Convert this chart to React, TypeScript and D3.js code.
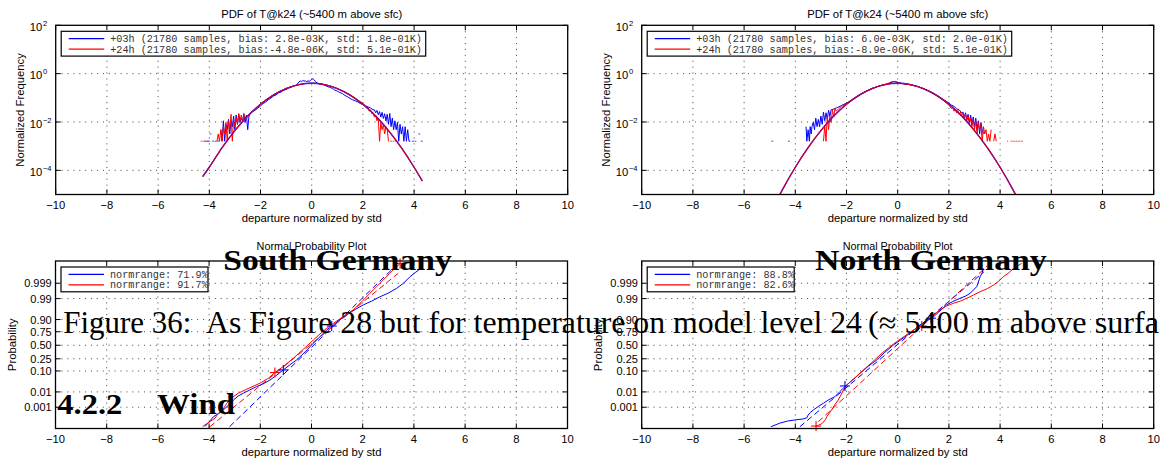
import React from "react";
import * as d3 from "d3";

// ---------------- DATA ----------------
const xTicks = [-10, -8, -6, -4, -2, 0, 2, 4, 6, 8, 10];
const pdfYTickExp = [2, 0, -2, -4];
const probTicks = ["0.001", "0.01", "0.10", "0.25", "0.50", "0.75", "0.90", "0.99", "0.999"];

const pdfTitle = "PDF of T@k24 (~5400 m above sfc)";
const pdfYLabel = "Normalized Frequency";
const npTitle = "Normal Probability Plot";
const npYLabel = "Probability";
const xLabel = "departure normalized by std";

const tlLegend = [
  "+03h (21780 samples, bias: 2.8e-03K, std: 1.8e-01K)",
  "+24h (21780 samples, bias:-4.8e-06K, std: 5.1e-01K)",
];
const trLegend = [
  "+03h (21780 samples, bias: 6.0e-03K, std: 2.0e-01K)",
  "+24h (21780 samples, bias:-8.9e-06K, std: 5.1e-01K)",
];
const blLegend = ["normrange: 71.9%", "normrange: 91.7%"];
const brLegend = ["normrange: 88.8%", "normrange: 82.6%"];

// PDF panels: [departure, normalized frequency]
const tlFit: [number, number][] = [
  [-4.26, 5.5e-5], [-4, 1.34e-4], [-3.5, 8.7e-4], [-3, 4.4e-3], [-2.5, 0.0175], [-2, 0.054],
  [-1.5, 0.13], [-1, 0.242], [-0.5, 0.352], [0, 0.399], [0.5, 0.352], [1, 0.242], [1.5, 0.13],
  [2, 0.054], [2.5, 0.0175], [3, 4.4e-3], [3.5, 8.7e-4], [4, 1.34e-4], [4.32, 3.6e-5],
];
const trFit: [number, number][] = [
  [-5, 1.5e-6], [-4.5, 1.6e-5], [-4, 1.34e-4], [-3.5, 8.7e-4], [-3, 4.4e-3], [-2.5, 0.0175],
  [-2, 0.054], [-1.5, 0.13], [-1, 0.242], [-0.5, 0.352], [0, 0.399], [0.5, 0.352], [1, 0.242],
  [1.5, 0.13], [2, 0.054], [2.5, 0.0175], [3, 4.4e-3], [3.5, 8.7e-4], [4, 1.34e-4], [4.5, 1.6e-5],
  [5, 1.5e-6],
];

const tlBlue: [number, number][] = [
  [-4.15, 0.0016], [-4.1, 0], [-4.05, 0.0016], [-4.0, 0], [-3.95, 0.0032], [-3.9, 0], [-3.85, 0.0016],
  [-3.8, 0], [-3.75, 0.0016], [-3.7, 0], [-3.65, 0.0016], [-3.6, 0], [-3.55, 0.0048], [-3.5, 0.0016],
  [-3.45, 0.0112], [-3.4, 0.0016], [-3.35, 0.008], [-3.3, 0.0048], [-3.25, 0.0128], [-3.2, 0.0032],
  [-3.15, 0.0112], [-3.1, 0.0064], [-3.05, 0.0176], [-3.0, 0.0048], [-2.95, 0.0192], [-2.9, 0.008],
  [-2.85, 0.0208], [-2.8, 0.0096], [-2.75, 0.0144], [-2.7, 0.0112], [-2.65, 0.0224], [-2.6, 0.0096],
  [-2.55, 0.0192], [-2.5, 0.0048], [-2.45, 0.0176], [-2.4, 0.0224], [-2.3, 0.027], [-2.2, 0.031],
  [-2.1, 0.038], [-2.0, 0.046], [-1.9, 0.058], [-1.8, 0.066], [-1.7, 0.083], [-1.6, 0.095],
  [-1.5, 0.118], [-1.4, 0.13], [-1.3, 0.16], [-1.2, 0.172], [-1.1, 0.205], [-1.0, 0.22],
  [-0.9, 0.255], [-0.8, 0.27], [-0.7, 0.31], [-0.6, 0.325], [-0.5, 0.45], [-0.45, 0.5], [-0.4, 0.47],
  [-0.35, 0.52], [-0.3, 0.49], [-0.25, 0.5], [-0.2, 0.47], [-0.15, 0.5], [-0.1, 0.48], [-0.05, 0.52],
  [0, 0.58], [0.05, 0.62], [0.1, 0.55], [0.15, 0.47], [0.2, 0.41], [0.3, 0.38], [0.4, 0.36],
  [0.5, 0.33], [0.6, 0.3], [0.7, 0.27], [0.8, 0.25], [0.9, 0.21], [1.0, 0.19], [1.1, 0.165],
  [1.2, 0.15], [1.3, 0.125], [1.4, 0.11], [1.5, 0.094], [1.6, 0.083], [1.7, 0.075], [1.8, 0.068],
  [1.9, 0.058], [2.0, 0.052], [2.1, 0.047], [2.2, 0.042], [2.3, 0.038], [2.4, 0.032], [2.45, 0.032],
  [2.5, 0.024], [2.55, 0.03], [2.6, 0.02], [2.65, 0.027], [2.7, 0.016], [2.75, 0.025], [2.8, 0.014],
  [2.85, 0.022], [2.9, 0.011], [2.95, 0.0208], [3.0, 0.008], [3.05, 0.0224], [3.1, 0.0064],
  [3.15, 0.0144], [3.2, 0.0048], [3.25, 0.0112], [3.3, 0.0048], [3.35, 0.0096], [3.4, 0.0016],
  [3.45, 0.008], [3.5, 0.0032], [3.55, 0.0064], [3.6, 0.0016], [3.65, 0.0064], [3.7, 0.0016],
  [3.75, 0.0048], [3.8, 0.0016], [3.85, 0.0016], [3.9, 0], [3.95, 0.0016], [4.0, 0], [4.05, 0.0016],
  [4.1, 0], [4.15, 0], [4.2, 0.0032], [4.25, 0], [4.3, 0.0016], [4.35, 0],
];

const tlRed: [number, number][] = [
  [-4.3, 0.0016], [-4.25, 0], [-4.2, 0.0016], [-4.15, 0], [-4.1, 0.0016], [-4.05, 0], [-4.0, 0.0016],
  [-3.95, 0], [-3.75, 0], [-3.7, 0.0016], [-3.65, 0.0032], [-3.6, 0.0016], [-3.55, 0.0048],
  [-3.5, 0.0016], [-3.45, 0.0064], [-3.4, 0.0032], [-3.35, 0.0096], [-3.3, 0.0016], [-3.25, 0.0112],
  [-3.2, 0.0048], [-3.15, 0.0208], [-3.1, 0.0016], [-3.05, 0.0128], [-3.0, 0.0064], [-2.95, 0.016],
  [-2.9, 0.008], [-2.85, 0.0224], [-2.8, 0.0112], [-2.75, 0.0192], [-2.7, 0.0096], [-2.65, 0.0208],
  [-2.6, 0.0128], [-2.55, 0.0176], [-2.5, 0.016], [-2.45, 0.0208], [-2.4, 0.024], [-2.3, 0.029],
  [-2.2, 0.036], [-2.1, 0.045], [-2.0, 0.055], [-1.9, 0.066], [-1.8, 0.08], [-1.7, 0.093],
  [-1.6, 0.112], [-1.5, 0.13], [-1.4, 0.152], [-1.3, 0.17], [-1.2, 0.196], [-1.1, 0.215],
  [-1.0, 0.245], [-0.9, 0.262], [-0.8, 0.292], [-0.7, 0.31], [-0.6, 0.335], [-0.5, 0.35],
  [-0.4, 0.37], [-0.3, 0.385], [-0.2, 0.39], [-0.1, 0.4], [0, 0.398], [0.1, 0.4], [0.2, 0.39],
  [0.3, 0.378], [0.4, 0.368], [0.5, 0.35], [0.6, 0.336], [0.7, 0.31], [0.8, 0.29], [0.9, 0.265],
  [1.0, 0.24], [1.1, 0.218], [1.2, 0.19], [1.3, 0.172], [1.4, 0.148], [1.5, 0.13], [1.6, 0.112],
  [1.7, 0.096], [1.8, 0.08], [1.9, 0.068], [2.0, 0.06], [2.05, 0.052], [2.1, 0.044], [2.15, 0.038],
  [2.2, 0.04], [2.25, 0.028], [2.3, 0.032], [2.35, 0.022], [2.4, 0.024], [2.45, 0.016],
  [2.5, 0.0192], [2.55, 0.0112], [2.6, 0.0144], [2.65, 0.0016], [2.7, 0.0096], [2.75, 0.0048],
  [2.8, 0.008], [2.85, 0.0032], [2.9, 0.0064], [2.95, 0.0048], [3.0, 0.0016], [3.05, 0],
  [3.1, 0.0016], [3.15, 0], [3.2, 0.0016], [3.25, 0], [3.3, 0.0016], [3.35, 0],
];

const trBlue: [number, number][] = [
  [-4.95, 0], [-4.9, 0.0016], [-4.85, 0], [-4.3, 0], [-4.25, 0.0016], [-4.2, 0], [-3.62, 0],
  [-3.58, 0.0064], [-3.55, 0.0016], [-3.5, 0.0048], [-3.45, 0.0016], [-3.42, 0.0064], [-3.38, 0.0032],
  [-3.35, 0.0064], [-3.3, 0.0096], [-3.25, 0.0048], [-3.2, 0.0144], [-3.15, 0.0064], [-3.1, 0.0128],
  [-3.05, 0.0064], [-3.0, 0.0176], [-2.95, 0.008], [-2.9, 0.0256], [-2.85, 0.0112], [-2.8, 0.024],
  [-2.75, 0.0128], [-2.7, 0.0304], [-2.65, 0.0176], [-2.6, 0.032], [-2.5, 0.034], [-2.4, 0.038],
  [-2.3, 0.042], [-2.2, 0.048], [-2.1, 0.054], [-2.0, 0.06], [-1.9, 0.07], [-1.8, 0.082],
  [-1.6, 0.113], [-1.4, 0.152], [-1.2, 0.196], [-1.0, 0.243], [-0.8, 0.29], [-0.6, 0.335],
  [-0.4, 0.37], [-0.3, 0.42], [-0.2, 0.45], [-0.1, 0.48], [0, 0.44], [0.1, 0.41], [0.2, 0.39],
  [0.4, 0.366], [0.6, 0.33], [0.8, 0.29], [1.0, 0.24], [1.2, 0.195], [1.4, 0.155], [1.6, 0.115],
  [1.8, 0.082], [1.9, 0.072], [2.0, 0.06], [2.1, 0.05], [2.2, 0.044], [2.3, 0.035], [2.4, 0.032],
  [2.5, 0.024], [2.55, 0.0256], [2.6, 0.016], [2.65, 0.024], [2.7, 0.0128], [2.75, 0.0208],
  [2.8, 0.0096], [2.85, 0.0192], [2.9, 0.008], [2.95, 0.016], [3.0, 0.0064], [3.05, 0.0144],
  [3.1, 0.0048], [3.15, 0.0112], [3.2, 0.0032], [3.25, 0.0096], [3.3, 0.0048], [3.35, 0.0032],
  [3.4, 0],
];

const trRed: [number, number][] = [
  [-2.95, 0], [-2.9, 0.0016], [-2.85, 0.0064], [-2.8, 0.0016], [-2.75, 0.0192], [-2.7, 0.0048],
  [-2.65, 0.0176], [-2.6, 0.0096], [-2.55, 0.0304], [-2.5, 0.016], [-2.45, 0.036], [-2.4, 0.028],
  [-2.3, 0.036], [-2.2, 0.044], [-2.1, 0.05], [-2.0, 0.056], [-1.9, 0.066], [-1.8, 0.08],
  [-1.6, 0.11], [-1.4, 0.15], [-1.2, 0.194], [-1.0, 0.245], [-0.8, 0.29], [-0.6, 0.34],
  [-0.4, 0.38], [-0.3, 0.43], [-0.2, 0.48], [-0.1, 0.46], [0, 0.42], [0.1, 0.4], [0.2, 0.38],
  [0.4, 0.36], [0.6, 0.32], [0.8, 0.285], [1.0, 0.24], [1.2, 0.19], [1.4, 0.15], [1.6, 0.11],
  [1.8, 0.076], [1.9, 0.062], [2.0, 0.05], [2.05, 0.042], [2.1, 0.036], [2.15, 0.04], [2.2, 0.028],
  [2.25, 0.032], [2.3, 0.024], [2.35, 0.03], [2.4, 0.021], [2.45, 0.0256], [2.5, 0.018],
  [2.55, 0.024], [2.6, 0.0144], [2.65, 0.0208], [2.7, 0.0112], [2.75, 0.0176], [2.8, 0.008],
  [2.85, 0.0144], [2.9, 0.0064], [2.95, 0.0128], [3.0, 0.0048], [3.05, 0.0112], [3.1, 0.0032],
  [3.15, 0.0096], [3.2, 0.0048], [3.25, 0.008], [3.3, 0.0016], [3.35, 0.0064], [3.4, 0.0032],
  [3.45, 0.0048], [3.5, 0.0016], [3.55, 0.0032], [3.6, 0.0016], [3.65, 0.0048], [3.7, 0],
  [3.75, 0.0016], [3.8, 0.0032], [3.85, 0.0016], [3.9, 0], [4.25, 0], [4.28, 0.0016], [4.31, 0.0016],
  [4.34, 0], [4.45, 0.0016], [4.5, 0], [4.55, 0.0016], [4.6, 0], [4.65, 0.0016], [4.7, 0],
  [4.75, 0.0016], [4.8, 0], [4.85, 0.0016], [4.9, 0],
];

// Normal probability panels: [departure, normal quantile of probability]
const blBlue: [number, number][] = [
  [-4.16, -4.05], [-3.95, -3.75], [-3.83, -3.56], [-3.6, -3.38], [-3.44, -3.22], [-3.25, -3.0],
  [-3.05, -2.73], [-2.85, -2.52], [-2.66, -2.39], [-2.4, -2.22], [-2.14, -2.06], [-1.85, -1.9],
  [-1.62, -1.73], [-1.35, -1.48], [-1.1, -1.23], [-0.85, -0.98], [-0.58, -0.73], [-0.25, -0.33],
  [0.07, 0.1], [0.35, 0.45], [0.59, 0.76], [0.85, 1.01], [1.1, 1.27], [1.37, 1.51], [1.7, 1.78],
  [2.02, 2.01], [2.35, 2.2], [2.68, 2.42], [3.0, 2.6], [3.33, 2.84], [3.6, 3.1], [3.85, 3.42],
  [4.05, 3.62], [4.24, 3.8], [4.32, 4.0],
];
const blRed: [number, number][] = [
  [-4.25, -4.05], [-3.96, -3.8], [-3.77, -3.64], [-3.64, -3.39], [-3.51, -3.31], [-3.31, -2.89],
  [-3.05, -2.56], [-2.86, -2.39], [-2.53, -2.19], [-2.01, -1.89], [-1.69, -1.65], [-1.43, -1.36],
  [-1.1, -1.06], [-0.71, -0.65], [-0.32, -0.2], [0.07, 0.26], [0.46, 0.71], [0.85, 1.09],
  [1.24, 1.43], [1.63, 1.76], [1.96, 2.17], [2.28, 2.59], [2.54, 2.92], [2.8, 3.25], [3.06, 3.59],
  [3.33, 3.92], [3.46, 4.08],
];
const blBlueRef: [number, number][] = [[-3.2, -4.06], [3.2, 3.85]];
const blRedRef: [number, number][] = [[-3.97, -4.06], [3.39, 3.59]];
const blBlueMarks: [number, number][] = [[-1.1, -1.23], [0.79, 0.96]];
const blRedMarks: [number, number][] = [[-1.43, -1.36], [3.46, 4.08]];

const brBlue: [number, number][] = [
  [-4.95, -4.06], [-4.6, -3.88], [-4.3, -3.78], [-4.0, -3.72], [-3.72, -3.68], [-3.55, -3.62],
  [-3.5, -3.48], [-3.42, -3.36], [-3.29, -3.22], [-3.1, -3.05], [-2.9, -2.89], [-2.7, -2.72],
  [-2.45, -2.56], [-2.25, -2.3], [-2.06, -2.06], [-1.75, -1.72], [-1.47, -1.4], [-1.15, -1.05],
  [-0.82, -0.73], [-0.5, -0.35], [-0.17, 0.01], [0.15, 0.3], [0.48, 0.6], [0.87, 1.01], [1.1, 1.2],
  [1.33, 1.34], [1.6, 1.65], [1.91, 2.01], [2.15, 2.18], [2.43, 2.34], [2.65, 2.45], [2.83, 2.59],
  [2.95, 2.75], [3.09, 2.92], [3.15, 3.15], [3.22, 3.42], [3.3, 3.62], [3.35, 3.82],
];
const brRed: [number, number][] = [
  [-3.2, -4.05], [-2.95, -3.9], [-2.82, -3.7], [-2.77, -3.56], [-2.58, -3.22], [-2.45, -2.95],
  [-2.32, -2.73], [-2.12, -2.23], [-1.99, -1.98], [-1.65, -1.6], [-1.34, -1.23], [-1.0, -0.85],
  [-0.69, -0.48], [-0.35, -0.12], [-0.04, 0.18], [0.3, 0.48], [0.61, 0.76], [0.94, 0.96],
  [1.3, 1.4], [1.65, 1.76], [1.9, 1.95], [2.17, 2.09], [2.45, 2.2], [2.7, 2.34], [2.95, 2.5],
  [3.22, 2.67], [3.5, 2.82], [3.74, 3.0], [3.95, 3.2], [4.13, 3.42], [4.35, 3.62], [4.52, 3.83],
  [4.7, 3.97], [4.84, 4.08],
];
const brBlueRef: [number, number][] = [[-3.82, -4.06], [3.37, 3.66]];
const brRedRef: [number, number][] = [[-3.1, -3.81], [3.54, 4.0]];
const brBlueMarks: [number, number][] = [[-2.06, -2.03], [1.3, 1.35]];
const brRedMarks: [number, number][] = [[-3.19, -4.03], [0.94, 0.96]];

// Document text showing through the page
const headSouth = "South Germany";
const headNorth = "North Germany";
const captionParts = ["Figure 36:", "As Figure 28 but for temperature on model level 24", "(\u2248 5400 m above surfa"];
const sectionNum = "4.2.2";
const sectionName = "Wind";

// ---------------- HELPERS ----------------
function probit(p: number): number {
  const a = [-39.69683028665376, 220.9460984245205, -275.9285104469687, 138.357751867269, -30.66479806614716, 2.506628277459239];
  const b = [-54.47609879822406, 161.5858368580409, -155.6989798598866, 66.80131188771972, -13.28068155288572];
  const c = [-0.007784894002430293, -0.3223964580411365, -2.400758277161838, -2.549732539343734, 4.374664141464968, 2.938163982698783];
  const d = [0.007784695709041462, 0.3224671290700398, 2.445134137142996, 3.754408661907416];
  const pl = 0.02425;
  if (p < pl) {
    const q = Math.sqrt(-2 * Math.log(p));
    return (((((c[0] * q + c[1]) * q + c[2]) * q + c[3]) * q + c[4]) * q + c[5]) / ((((d[0] * q + d[1]) * q + d[2]) * q + d[3]) * q + 1);
  }
  if (p <= 1 - pl) {
    const q = p - 0.5, r = q * q;
    return ((((((a[0] * r + a[1]) * r + a[2]) * r + a[3]) * r + a[4]) * r + a[5]) * q) / (((((b[0] * r + b[1]) * r + b[2]) * r + b[3]) * r + b[4]) * r + 1);
  }
  const q = Math.sqrt(-2 * Math.log(1 - p));
  return -(((((c[0] * q + c[1]) * q + c[2]) * q + c[3]) * q + c[4]) * q + c[5]) / ((((d[0] * q + d[1]) * q + d[2]) * q + d[3]) * q + 1);
}

const fmtX = (v: number) => (v < 0 ? "\u2212" + Math.abs(v) : String(v));
const SANS = "'Liberation Sans', Arial, Helvetica, sans-serif";
const MONO = "'Liberation Mono', 'Courier New', monospace";
const SERIF = "'Liberation Serif', 'Times New Roman', serif";
const BLUE = "#0000ff";
const RED = "#ff0000";

type Box = { left: number; right: number; top: number; bottom: number };

function Frame({ b, xs, yTicks }: { b: Box; xs: d3.ScaleLinear<number, number>; yTicks: number[] }) {
  const tl = 5;
  return (
    <g>
      <rect x={b.left} y={b.top} width={b.right - b.left} height={b.bottom - b.top} fill="none" stroke="#000" strokeWidth={1.3} />
      {xTicks.map((t) => (
        <g key={"xt" + t}>
          <line x1={xs(t)} x2={xs(t)} y1={b.bottom} y2={b.bottom - tl} stroke="#000" strokeWidth={1} />
          <line x1={xs(t)} x2={xs(t)} y1={b.top} y2={b.top + tl} stroke="#000" strokeWidth={1} />
          <text x={xs(t)} y={b.bottom + 14} textAnchor="middle" fontSize={11.2} fontFamily={SANS}>{fmtX(t)}</text>
        </g>
      ))}
      {yTicks.map((y, i) => (
        <g key={"yt" + i}>
          <line x1={b.left} x2={b.left + tl} y1={y} y2={y} stroke="#000" strokeWidth={1} />
          <line x1={b.right} x2={b.right - tl} y1={y} y2={y} stroke="#000" strokeWidth={1} />
        </g>
      ))}
    </g>
  );
}

function Grid({ b, xs, yTicks }: { b: Box; xs: d3.ScaleLinear<number, number>; yTicks: number[] }) {
  const st = { stroke: "#000", strokeWidth: 0.9, strokeDasharray: "1.1,4.8", opacity: 0.75 };
  return (
    <g>
      {xTicks.filter((t) => t > -10 && t < 10).map((t) => (
        <line key={"gx" + t} x1={xs(t)} x2={xs(t)} y1={b.top} y2={b.bottom} {...st} />
      ))}
      {yTicks.filter((y) => y > b.top + 1 && y < b.bottom - 1).map((y, i) => (
        <line key={"gy" + i} x1={b.left} x2={b.right} y1={y} y2={y} {...st} />
      ))}
    </g>
  );
}

function Legend({ b, lines, width }: { b: Box; lines: string[]; width: number }) {
  const x0 = b.left + 5.5;
  const y0 = b.top + 6;
  const rows = [y0 + 7.3, y0 + 17.8];
  const colors = [BLUE, RED];
  return (
    <g>
      <rect x={x0} y={y0} width={width} height={24.8} fill="#fff" stroke="#000" strokeWidth={1.2} />
      {lines.map((s, i) => (
        <g key={i}>
          <line x1={x0 + 7.5} x2={x0 + 43} y1={rows[i]} y2={rows[i]} stroke={colors[i]} strokeWidth={1.3} />
          <text x={x0 + 49} y={rows[i] + 3.4} fontSize={10.2} fontFamily={MONO} fill="#333" style={{ whiteSpace: "pre" }}>{s}</text>
        </g>
      ))}
    </g>
  );
}

function PdfPanel({ id, b, blue, red, fit, legend }: { id: string; b: Box; blue: [number, number][]; red: [number, number][]; fit: [number, number][]; legend: string[] }) {
  const xs = d3.scaleLinear().domain([-10, 10]).range([b.left, b.right]);
  const ys = d3.scaleLog().domain([1e-5, 1e2]).range([b.bottom, b.top]);
  const yTickPos = pdfYTickExp.map((e) => ys(Math.pow(10, e)));
  const line = d3.line<[number, number]>().defined((d) => d[1] > 0).x((d) => xs(d[0])).y((d) => ys(d[1]));
  const fitLine = d3.line<[number, number]>().curve(d3.curveMonotoneX).x((d) => xs(d[0])).y((d) => ys(d[1]));
  const isolated = (arr: [number, number][]) =>
    arr.filter((d, i) => d[1] > 0 && !(i > 0 && arr[i - 1][1] > 0) && !(i < arr.length - 1 && arr[i + 1][1] > 0));
  const cx = (b.left + b.right) / 2;
  const cy = (b.top + b.bottom) / 2;
  return (
    <g>
      <defs>
        <clipPath id={id}>
          <rect x={b.left} y={b.top} width={b.right - b.left} height={b.bottom - b.top} />
        </clipPath>
      </defs>
      <Grid b={b} xs={xs} yTicks={yTickPos} />
      <g clipPath={`url(#${id})`}>
        <path d={line(blue) || ""} fill="none" stroke={BLUE} strokeWidth={1} />
        <path d={line(red) || ""} fill="none" stroke={RED} strokeWidth={1} />
        {isolated(blue).map((d, i) => (
          <rect key={"bd" + i} x={xs(d[0]) - 1} y={ys(d[1]) - 0.6} width={2} height={1.2} fill={BLUE} opacity={0.6} />
        ))}
        {isolated(red).map((d, i) => (
          <rect key={"rd" + i} x={xs(d[0]) - 1} y={ys(d[1]) - 0.6} width={2} height={1.2} fill={RED} opacity={0.6} />
        ))}
        <path d={fitLine(fit) || ""} fill="none" stroke={BLUE} strokeWidth={1.4} />
        <path d={fitLine(fit) || ""} fill="none" stroke={RED} strokeWidth={1.1} opacity={0.85} />
      </g>
      <Frame b={b} xs={xs} yTicks={yTickPos} />
      {pdfYTickExp.map((e, i) => (
        <g key={"yl" + e}>
          <text x={b.left - 13.4} y={yTickPos[i] + 5.8} textAnchor="end" fontSize={11.2} fontFamily={SANS}>10</text>
          <text x={b.left - 12.8} y={yTickPos[i] + 0.8} fontSize={7.6} fontFamily={SANS}>{fmtX(e)}</text>
        </g>
      ))}
      <text x={cx} y={17.5} textAnchor="middle" fontSize={11.3} fontFamily={SANS}>{pdfTitle}</text>
      <text x={cx} y={b.bottom + 27} textAnchor="middle" fontSize={11.3} fontFamily={SANS}>{xLabel}</text>
      <text transform={`translate(${b.left - 31.7},${cy}) rotate(-90)`} textAnchor="middle" fontSize={11.3} fontFamily={SANS}>{pdfYLabel}</text>
      <Legend b={b} lines={legend} width={364.5} />
    </g>
  );
}

function Plus({ x, y, color }: { x: number; y: number; color: string }) {
  return (
    <g stroke={color} strokeWidth={1.1}>
      <line x1={x - 5} x2={x + 5} y1={y} y2={y} />
      <line x1={x} x2={x} y1={y - 5} y2={y + 5} />
    </g>
  );
}

function NpPanel({ id, b, blue, red, blueRef, redRef, blueMarks, redMarks, legend }: {
  id: string; b: Box; blue: [number, number][]; red: [number, number][]; blueRef: [number, number][]; redRef: [number, number][];
  blueMarks: [number, number][]; redMarks: [number, number][]; legend: string[];
}) {
  const xs = d3.scaleLinear().domain([-10, 10]).range([b.left, b.right]);
  const ys = d3.scaleLinear().domain([-4.15, 4.2]).range([b.bottom, b.top]);
  const yTickPos = probTicks.map((p) => ys(probit(parseFloat(p))));
  const line = d3.line<[number, number]>().x((d) => xs(d[0])).y((d) => ys(d[1]));
  const cx = (b.left + b.right) / 2;
  const cy = (b.top + b.bottom) / 2;
  return (
    <g>
      <defs>
        <clipPath id={id}>
          <rect x={b.left} y={b.top} width={b.right - b.left} height={b.bottom - b.top} />
        </clipPath>
      </defs>
      <Grid b={b} xs={xs} yTicks={yTickPos} />
      <g clipPath={`url(#${id})`}>
        <path d={line(blueRef) || ""} fill="none" stroke={BLUE} strokeWidth={1} strokeDasharray="6,3.5" />
        <path d={line(redRef) || ""} fill="none" stroke={RED} strokeWidth={1} strokeDasharray="6,3.5" />
        <path d={line(blue) || ""} fill="none" stroke={BLUE} strokeWidth={1} />
        <path d={line(red) || ""} fill="none" stroke={RED} strokeWidth={1} />
      </g>
      {blueMarks.map((d, i) => <Plus key={"bm" + i} x={xs(d[0])} y={ys(d[1])} color={BLUE} />)}
      {redMarks.map((d, i) => <Plus key={"rm" + i} x={xs(d[0])} y={ys(d[1])} color={RED} />)}
      <Frame b={b} xs={xs} yTicks={yTickPos} />
      {probTicks.map((p, i) => (
        <text key={"pl" + p} x={b.left - 3.8} y={yTickPos[i] + 4} textAnchor="end" fontSize={11} fontFamily={SANS}>{p}</text>
      ))}
      <text x={cx} y={b.top - 11.5} textAnchor="middle" fontSize={10.8} fontFamily={SANS}>{npTitle}</text>
      <text x={cx} y={b.bottom + 27} textAnchor="middle" fontSize={11.3} fontFamily={SANS}>{xLabel}</text>
      <text transform={`translate(${b.left - 39.5},${cy}) rotate(-90)`} textAnchor="middle" fontSize={11.3} fontFamily={SANS}>{npYLabel}</text>
      <Legend b={b} lines={legend} width={147} />
    </g>
  );
}

export default function App() {
  const tl: Box = { left: 55.7, right: 567.7, top: 25.3, bottom: 194.5 };
  const tr: Box = { left: 641.7, right: 1153.7, top: 25.3, bottom: 194.5 };
  const bl: Box = { left: 55.5, right: 567.5, top: 261, bottom: 428.5 };
  const br: Box = { left: 641.7, right: 1153.7, top: 261, bottom: 428.5 };
  return (
    <svg width={1163} height={463} style={{ position: "absolute", left: 0, top: 0, background: "#fff" }}>
      <rect x={0} y={0} width={1163} height={463} fill="#fff" />
      <PdfPanel id="clipTL" b={tl} blue={tlBlue} red={tlRed} fit={tlFit} legend={tlLegend} />
      <PdfPanel id="clipTR" b={tr} blue={trBlue} red={trRed} fit={trFit} legend={trLegend} />
      <NpPanel id="clipBL" b={bl} blue={blBlue} red={blRed} blueRef={blBlueRef} redRef={blRedRef}
        blueMarks={blBlueMarks} redMarks={blRedMarks} legend={blLegend} />
      <NpPanel id="clipBR" b={br} blue={brBlue} red={brRed} blueRef={brBlueRef} redRef={brRedRef}
        blueMarks={brBlueMarks} redMarks={brRedMarks} legend={brLegend} />
      <g fontFamily={SERIF} fill="#000">
        <text x={223.3} y={269.5} fontSize={29} fontWeight="bold" textLength={228.4} lengthAdjust="spacingAndGlyphs">{headSouth}</text>
        <text x={815} y={270} fontSize={29} fontWeight="bold" textLength={231.7} lengthAdjust="spacingAndGlyphs">{headNorth}</text>
        <text x={63.3} y={333.3} fontSize={30.5} textLength={128} lengthAdjust="spacingAndGlyphs">{captionParts[0]}</text>
        <text x={206} y={333.3} fontSize={30.5} textLength={656} lengthAdjust="spacingAndGlyphs">{captionParts[1]}</text>
        <text x={868} y={333.3} fontSize={30.5} textLength={291} lengthAdjust="spacingAndGlyphs">{captionParts[2]}</text>
        <text x={57.3} y={414} fontSize={29.5} fontWeight="bold" textLength={65} lengthAdjust="spacingAndGlyphs">{sectionNum}</text>
        <text x={157} y={414} fontSize={29.5} fontWeight="bold" textLength={78} lengthAdjust="spacingAndGlyphs">{sectionName}</text>
      </g>
    </svg>
  );
}
